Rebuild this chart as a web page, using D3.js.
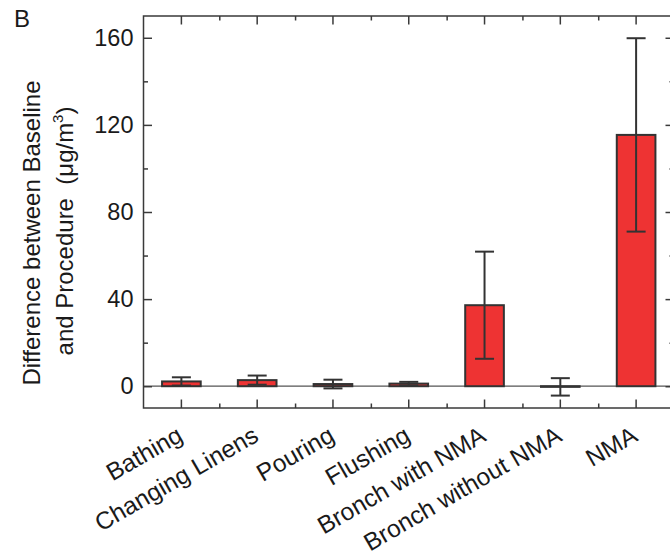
<!DOCTYPE html>
<html>
<head>
<meta charset="utf-8">
<script src="https://cdn.jsdelivr.net/npm/d3@7/dist/d3.min.js"></script>
<style>
  html, body { margin: 0; padding: 0; background: #ffffff; }
  svg { display: block; }
  text { font-family: "Liberation Sans", Arial, Helvetica, sans-serif; fill: #1a1a1a; }
</style>
</head>
<body>
<script>
// ---- data ----
const categories = ["Bathing", "Changing Linens", "Pouring", "Flushing", "Bronch with NMA", "Bronch without NMA", "NMA"];
const values = [2.2, 2.8, 1.0, 1.2, 37.2, -0.3, 115.4];
const errors = [1.9, 2.1, 2.0, 0.8, 24.6, 4.0, 44.4];
const yTicks = [0, 40, 80, 120, 160];
const yMinorTicks = [20, 60, 100, 140];
const panelLabel = "B";
const yTitleLine1 = "Difference between Baseline";
const yTitleLine2 = "and Procedure  (\u03bcg/m";

// ---- layout ----
const W = 670, H = 558;
const pLeft = 143.5, pRight = 674, pTop = 16, pBottom = 408;
const axisColor = "#3a3a3a";
const barFill = "#ee3333";

const svg = d3.select("body").append("svg")
  .attr("width", W).attr("height", H)
  .attr("viewBox", `0 0 ${W} ${H}`);

svg.append("rect").attr("width", W).attr("height", H).attr("fill", "#fff");

const x = d3.scaleBand().domain(categories).range([pLeft, pRight])
  .paddingInner(0.49).paddingOuter(0.245);
const y = d3.scaleLinear().domain([-10, 170]).range([pBottom, pTop]);

const step = x.step();
const centers = categories.map(c => x(c) + x.bandwidth() / 2);
const minorX = centers.map(c => c + step / 2).filter(v => v < pRight);

// zero line
svg.append("line")
  .attr("x1", pLeft).attr("x2", pRight)
  .attr("y1", y(0)).attr("y2", y(0))
  .attr("stroke", "#555").attr("stroke-width", 1.3);

// bars
const data = categories.map((c, i) => ({ c, v: values[i], e: errors[i] }));
svg.append("g").selectAll("rect").data(data).join("rect")
  .attr("x", d => x(d.c))
  .attr("width", x.bandwidth())
  .attr("y", d => y(Math.max(0, d.v)))
  .attr("height", d => Math.abs(y(d.v) - y(0)))
  .attr("fill", barFill)
  .attr("stroke", "#333")
  .attr("stroke-width", 2);

// error bars
const eg = svg.append("g").attr("stroke", "#333").attr("stroke-width", 2);
data.forEach(d => {
  const cx = x(d.c) + x.bandwidth() / 2;
  eg.append("line").attr("x1", cx).attr("x2", cx)
    .attr("y1", y(d.v + d.e)).attr("y2", y(d.v - d.e));
  [d.v + d.e, d.v - d.e].forEach(v => {
    eg.append("line").attr("x1", cx - 9.5).attr("x2", cx + 9.5)
      .attr("y1", y(v)).attr("y2", y(v));
  });
});

// frame
svg.append("rect")
  .attr("x", pLeft).attr("y", pTop)
  .attr("width", pRight - pLeft).attr("height", pBottom - pTop)
  .attr("fill", "none").attr("stroke", axisColor).attr("stroke-width", 1.5);

function styleAxis(g) {
  g.select(".domain").remove();
  g.selectAll("line").attr("stroke", axisColor).attr("stroke-width", 1.5);
}

// left axis (ticks inward)
const gl = svg.append("g").attr("transform", `translate(${pLeft},0)`)
  .call(d3.axisLeft(y).tickValues(yTicks).tickSize(-8.5).tickPadding(10).tickFormat(d3.format("d")));
styleAxis(gl);
gl.selectAll("text").attr("font-size", 23.5).attr("fill", "#1a1a1a")
  .attr("font-family", "Liberation Sans, Arial, sans-serif");
const glm = svg.append("g").attr("transform", `translate(${pLeft},0)`)
  .call(d3.axisLeft(y).tickValues(yMinorTicks).tickSize(-4.5).tickFormat(""));
styleAxis(glm);

// right axis (ticks inward)
const gr = svg.append("g").attr("transform", `translate(${pRight},0)`)
  .call(d3.axisRight(y).tickValues(yTicks).tickSize(-8.5).tickFormat(""));
styleAxis(gr);
const grm = svg.append("g").attr("transform", `translate(${pRight},0)`)
  .call(d3.axisRight(y).tickValues(yMinorTicks).tickSize(-4.5).tickFormat(""));
styleAxis(grm);

// bottom axis (ticks inward)
const gb = svg.append("g").attr("transform", `translate(0,${pBottom})`)
  .call(d3.axisBottom(x).tickSize(-8.5).tickFormat(""));
styleAxis(gb);
const gbm = svg.append("g").attr("transform", `translate(0,${pBottom})`)
  .call(d3.axisBottom(d3.scaleIdentity()).tickValues(minorX).tickSize(-4.5).tickFormat(""));
styleAxis(gbm);

// top axis (ticks inward)
const gt = svg.append("g").attr("transform", `translate(0,${pTop})`)
  .call(d3.axisTop(x).tickSize(-8.5).tickFormat(""));
styleAxis(gt);
const gtm = svg.append("g").attr("transform", `translate(0,${pTop})`)
  .call(d3.axisTop(d3.scaleIdentity()).tickValues(minorX).tickSize(-4.5).tickFormat(""));
styleAxis(gtm);

// category labels
svg.append("g").selectAll("text").data(categories).join("text")
  .attr("transform", (c, i) => `translate(${centers[i] + 3},${440}) rotate(-30)`)
  .attr("text-anchor", "end")
  .attr("font-size", 24.5)
  .text(c => c);

// y title
svg.append("text")
  .attr("transform", `translate(40,233) rotate(-90)`)
  .attr("text-anchor", "middle")
  .attr("font-size", 24)
  .text(yTitleLine1);
const yt2 = svg.append("text")
  .attr("transform", `translate(73,231) rotate(-90)`)
  .attr("text-anchor", "middle")
  .attr("font-size", 24)
  .style("white-space", "pre");
yt2.append("tspan").text(yTitleLine2);
yt2.append("tspan").attr("font-size", 15).attr("dy", -10).text("3");
yt2.append("tspan").attr("dy", 10).text(")");

// panel label
svg.append("text").attr("x", 14).attr("y", 27)
  .attr("font-size", 24).text(panelLabel);
</script>
</body>
</html>
